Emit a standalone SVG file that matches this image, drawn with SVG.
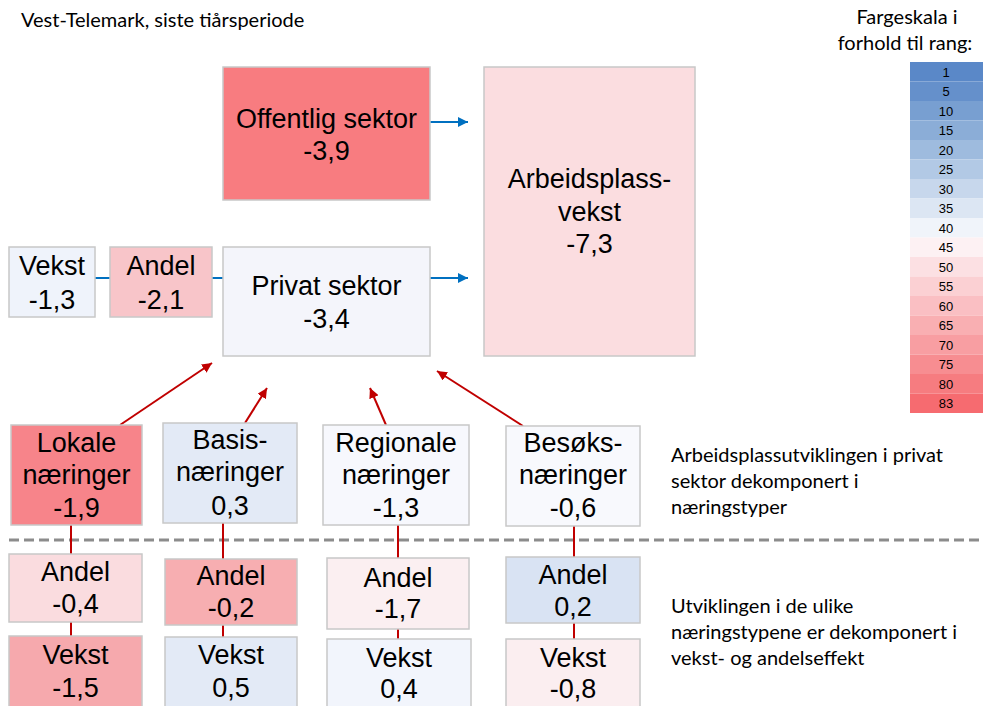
<svg xmlns="http://www.w3.org/2000/svg" width="983" height="706" viewBox="0 0 983 706">
<style>
.box{stroke:#c8c8c8;stroke-width:1.5}
.t{font-family:"Liberation Sans",Arial,sans-serif;font-size:27px;fill:#000;text-anchor:middle}
.note{font-family:Lato,"Open Sans",sans-serif;font-size:20px;fill:#000}
.sc{font-family:"Liberation Sans",Arial,sans-serif;font-size:13px;fill:#000;text-anchor:middle}
.blue{stroke:#0070c0;stroke-width:2;fill:none}
.red{stroke:#c00000;stroke-width:2;fill:none}
</style>
<defs>
<marker id="ab" viewBox="0 0 10 10" refX="10" refY="5" markerWidth="5" markerHeight="5" orient="auto" markerUnits="strokeWidth"><path d="M0,0L10,5L0,10z" fill="#0070c0"/></marker>
<marker id="ar" viewBox="0 0 10 10" refX="10" refY="5" markerWidth="5" markerHeight="5" orient="auto" markerUnits="strokeWidth"><path d="M0,0L10,5L0,10z" fill="#c00000"/></marker>
</defs>
<rect width="983" height="706" fill="#fff"/>
<text class="note" x="21" y="27">Vest-Telemark, siste tiårsperiode</text>
<text class="note" x="907" y="24" text-anchor="middle">Fargeskala i</text>
<text class="note" x="905" y="50" text-anchor="middle">forhold til rang:</text>
<g id="scale">
<rect x="910" y="62" width="73" height="19.5" fill="#5a88c8"/><text class="sc" x="946" y="76.5">1</text>
<rect x="910" y="81.5" width="73" height="19.5" fill="#6590cb"/><text class="sc" x="946" y="96">5</text>
<rect x="910" y="101" width="73" height="19.5" fill="#789fd1"/><text class="sc" x="946" y="115.5">10</text>
<rect x="910" y="120.5" width="73" height="19.5" fill="#8badd7"/><text class="sc" x="946" y="135">15</text>
<rect x="910" y="140" width="73" height="19.5" fill="#9ebbde"/><text class="sc" x="946" y="154.5">20</text>
<rect x="910" y="159.5" width="73" height="19.5" fill="#b2c9e5"/><text class="sc" x="946" y="174">25</text>
<rect x="910" y="179" width="73" height="19.5" fill="#c7d7ec"/><text class="sc" x="946" y="193.5">30</text>
<rect x="910" y="198.5" width="73" height="19.5" fill="#dce6f3"/><text class="sc" x="946" y="213">35</text>
<rect x="910" y="218" width="73" height="19.5" fill="#f0f4fa"/><text class="sc" x="946" y="232.5">40</text>
<rect x="910" y="237.5" width="73" height="19.5" fill="#fdf1f3"/><text class="sc" x="946" y="252">45</text>
<rect x="910" y="257" width="73" height="19.5" fill="#fce0e3"/><text class="sc" x="946" y="271.5">50</text>
<rect x="910" y="276.5" width="73" height="19.5" fill="#fbd0d3"/><text class="sc" x="946" y="291">55</text>
<rect x="910" y="296" width="73" height="19.5" fill="#fabfc3"/><text class="sc" x="946" y="310.5">60</text>
<rect x="910" y="315.5" width="73" height="19.5" fill="#f9afb2"/><text class="sc" x="946" y="330">65</text>
<rect x="910" y="335" width="73" height="19.5" fill="#f89ea2"/><text class="sc" x="946" y="349.5">70</text>
<rect x="910" y="354.5" width="73" height="19.5" fill="#f78d91"/><text class="sc" x="946" y="369">75</text>
<rect x="910" y="374" width="73" height="19.5" fill="#f67c80"/><text class="sc" x="946" y="388.5">80</text>
<rect x="910" y="393.5" width="73" height="19.5" fill="#f66b70"/><text class="sc" x="946" y="408">83</text>
</g>
<line x1="9" y1="540" x2="983" y2="540" stroke="#8c8c8c" stroke-width="3" stroke-dasharray="10,5"/>
<g id="connectors">
<line class="blue" x1="430" y1="122" x2="468" y2="122" marker-end="url(#ab)"/>
<line class="blue" x1="430" y1="278" x2="468" y2="278" marker-end="url(#ab)"/>
<line class="blue" x1="95" y1="278" x2="110" y2="278"/>
<line class="blue" x1="212" y1="278" x2="223" y2="278"/>
<line class="red" x1="120" y1="425" x2="212" y2="363" marker-end="url(#ar)"/>
<line class="red" x1="245" y1="423" x2="267" y2="388" marker-end="url(#ar)"/>
<line class="red" x1="386" y1="425" x2="370" y2="388" marker-end="url(#ar)"/>
<line class="red" x1="523" y1="426" x2="437" y2="371" marker-end="url(#ar)"/>
<line class="red" x1="71" y1="525" x2="71" y2="554"/>
<line class="red" x1="71" y1="622" x2="71" y2="636"/>
<line class="red" x1="223" y1="523" x2="223" y2="559"/>
<line class="red" x1="223" y1="625" x2="223" y2="637"/>
<line class="red" x1="398" y1="525" x2="398" y2="558"/>
<line class="red" x1="398" y1="629" x2="398" y2="639"/>
<line class="red" x1="574" y1="526" x2="574" y2="557"/>
<line class="red" x1="574" y1="623" x2="574" y2="639"/>
</g>
<g id="offentlig"><rect class="box" x="223" y="67" width="207" height="133" fill="#f87c80"/><text class="t" x="326.5" y="128">Offentlig sektor</text><text class="t" x="326.5" y="160">-3,9</text></g>
<g id="arbeidsplass"><rect class="box" x="484" y="67" width="211" height="289" fill="#fbdde0"/><text class="t" x="589.5" y="188">Arbeidsplass-</text><text class="t" x="589.5" y="221">vekst</text><text class="t" x="589.5" y="253">-7,3</text></g>
<g id="privat"><rect class="box" x="223" y="247" width="207" height="109" fill="#f4f5fb"/><text class="t" x="326.5" y="295">Privat sektor</text><text class="t" x="326.5" y="328">-3,4</text></g>
<g id="vekst-top"><rect class="box" x="9" y="247" width="86" height="70" fill="#eff3fb"/><text class="t" x="52" y="275">Vekst</text><text class="t" x="52" y="309">-1,3</text></g>
<g id="andel-top"><rect class="box" x="110" y="247" width="102" height="70" fill="#f8c5c9"/><text class="t" x="161" y="275">Andel</text><text class="t" x="161" y="309">-2,1</text></g>
<g id="lokale"><rect class="box" x="11" y="425" width="131" height="100" fill="#f7848a"/><text class="t" x="76.5" y="452">Lokale</text><text class="t" x="76.5" y="484">næringer</text><text class="t" x="76.5" y="517">-1,9</text></g>
<g id="basis"><rect class="box" x="163" y="423" width="134" height="100" fill="#e3eaf6"/><text class="t" x="230" y="449">Basis-</text><text class="t" x="230" y="481">næringer</text><text class="t" x="230" y="515">0,3</text></g>
<g id="regionale"><rect class="box" x="323" y="425" width="146" height="100" fill="#f7f8fd"/><text class="t" x="396" y="452">Regionale</text><text class="t" x="396" y="484">næringer</text><text class="t" x="396" y="517">-1,3</text></g>
<g id="besoks"><rect class="box" x="506" y="426" width="134" height="100" fill="#f8f9fd"/><text class="t" x="573" y="452">Besøks-</text><text class="t" x="573" y="484">næringer</text><text class="t" x="573" y="517">-0,6</text></g>
<g id="lokale-andel"><rect class="box" x="9" y="554" width="133" height="68" fill="#fadcdf"/><text class="t" x="75.5" y="581">Andel</text><text class="t" x="75.5" y="613">-0,4</text></g>
<g id="lokale-vekst"><rect class="box" x="9" y="636" width="133" height="75" fill="#f6a9ad"/><text class="t" x="75.5" y="664">Vekst</text><text class="t" x="75.5" y="697">-1,5</text></g>
<g id="basis-andel"><rect class="box" x="165" y="559" width="132" height="66" fill="#f7aeb1"/><text class="t" x="231" y="585">Andel</text><text class="t" x="231" y="617">-0,2</text></g>
<g id="basis-vekst"><rect class="box" x="165" y="637" width="132" height="75" fill="#e3eaf6"/><text class="t" x="231" y="664">Vekst</text><text class="t" x="231" y="697">0,5</text></g>
<g id="regionale-andel"><rect class="box" x="327" y="558" width="142" height="71" fill="#fbeff1"/><text class="t" x="398" y="587">Andel</text><text class="t" x="398" y="618">-1,7</text></g>
<g id="regionale-vekst"><rect class="box" x="327" y="639" width="144" height="75" fill="#f2f5fc"/><text class="t" x="399" y="667">Vekst</text><text class="t" x="399" y="698">0,4</text></g>
<g id="besoks-andel"><rect class="box" x="506" y="557" width="134" height="66" fill="#d9e3f3"/><text class="t" x="573" y="584">Andel</text><text class="t" x="573" y="616">0,2</text></g>
<g id="besoks-vekst"><rect class="box" x="506" y="639" width="134" height="75" fill="#fbeef0"/><text class="t" x="573" y="667">Vekst</text><text class="t" x="573" y="698">-0,8</text></g>
<text class="note" x="671" y="462">Arbeidsplassutviklingen i privat</text>
<text class="note" x="671" y="488">sektor dekomponert i</text>
<text class="note" x="671" y="514">næringstyper</text>
<text class="note" x="671" y="613">Utviklingen i de ulike</text>
<text class="note" x="671" y="639">næringstypene er dekomponert i</text>
<text class="note" x="671" y="665">vekst- og andelseffekt</text>
</svg>
